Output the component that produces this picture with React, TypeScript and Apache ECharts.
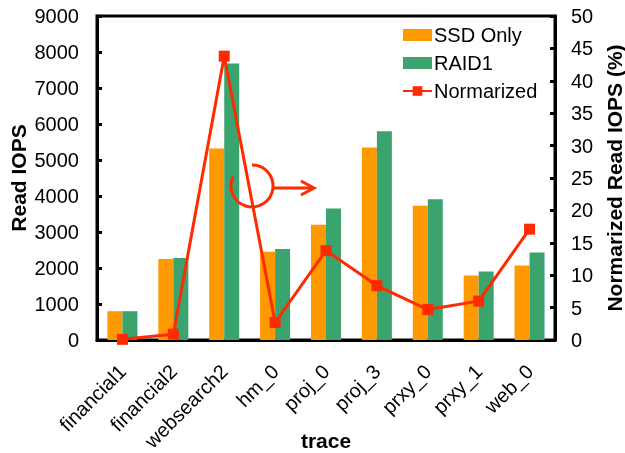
import React, { useEffect, useRef } from "react";
import * as echarts from "echarts";

const categories = ["financial1", "financial2", "websearch2", "hm_0", "proj_0", "proj_3", "prxy_0", "prxy_1", "web_0"];
const ssdOnly = [800, 2250, 5320, 2450, 3200, 5350, 3730, 1790, 2070];
const raid1 = [800, 2280, 7680, 2530, 3650, 5800, 3910, 1900, 2430];
const normarized = [0.1, 0.9, 43.8, 2.7, 13.8, 8.4, 4.7, 6.0, 17.1];

const FONT = "Liberation Sans, Arial, sans-serif";
const RED = "#FF2A00";

export default function App() {
  const ref = useRef<HTMLDivElement>(null);
  useEffect(() => {
    if (!ref.current) return;
    const chart = echarts.init(ref.current, undefined, { renderer: "svg" });
    chart.setOption({
      animation: false,
      textStyle: { fontFamily: FONT },
      grid: {
        left: 97,
        right: 70,
        top: 16,
        bottom: 113,
        containLabel: false,
        outerBoundsMode: "none",
        show: true,
        borderColor: "#000",
        borderWidth: 3,
        backgroundColor: "transparent",
      },
      legend: {
        orient: "vertical",
        left: 402,
        top: 25,
        padding: 0,
        itemWidth: 29,
        itemHeight: 12,
        itemGap: 8,
        textStyle: { fontSize: 20, color: "#000", fontFamily: FONT, padding: [0, 0, 0, -3] },
        data: [
          { name: "SSD Only", icon: "rect" },
          { name: "RAID1", icon: "rect" },
          { name: "Normarized" },
        ],
      },
      xAxis: {
        type: "category",
        data: categories,
        name: "trace",
        nameLocation: "middle",
        nameGap: 100,
        nameMoveOverlap: false,
        nameTextStyle: { fontSize: 21, fontWeight: "bold", color: "#000", align: "center", verticalAlign: "middle" },
        axisLine: { lineStyle: { color: "#000", width: 3 } },
        axisTick: { inside: true, length: 5, lineStyle: { width: 3, color: "#000" } },
        axisLabel: { rotate: 45, interval: 0, fontSize: 20, color: "#000", margin: 28 },
      },
      yAxis: [
        {
          type: "value",
          min: 0,
          max: 9000,
          interval: 1000,
          name: "Read IOPS",
          nameLocation: "middle",
          nameGap: 79,
          nameRotate: 90,
          nameMoveOverlap: false,
          nameTextStyle: { fontSize: 21, fontWeight: "bold", color: "#000", align: "center", verticalAlign: "middle" },
          splitLine: { show: false },
          axisLine: { show: true, lineStyle: { color: "#000", width: 3 } },
          axisTick: { show: true, inside: true, length: 5, lineStyle: { width: 3, color: "#000" } },
          axisLabel: { fontSize: 20, color: "#000", margin: 18, formatter: (v: number) => String(v) },
        },
        {
          type: "value",
          min: 0,
          max: 50,
          interval: 5,
          name: "Normarized Read IOPS (%)",
          nameLocation: "middle",
          nameGap: 59,
          nameRotate: 90,
          nameMoveOverlap: false,
          nameTextStyle: { fontSize: 21, fontWeight: "bold", color: "#000", align: "center", verticalAlign: "middle" },
          splitLine: { show: false },
          axisLine: { show: true, lineStyle: { color: "#000", width: 3 } },
          axisTick: { show: true, inside: true, length: 5, lineStyle: { width: 3, color: "#000" } },
          axisLabel: { fontSize: 20, color: "#000", margin: 16, formatter: (v: number) => String(v) },
        },
      ],
      series: [
        {
          name: "SSD Only",
          type: "bar",
          data: ssdOnly,
          barWidth: 15,
          barGap: "0%",
          itemStyle: { color: "#FF9900" },
        },
        {
          name: "RAID1",
          type: "bar",
          data: raid1,
          barWidth: 15,
          barGap: "0%",
          itemStyle: { color: "#3BA36E" },
        },
        {
          name: "Normarized",
          type: "line",
          yAxisIndex: 1,
          data: normarized,
          symbol: "rect",
          symbolSize: 11,
          z: 5,
          lineStyle: { color: RED, width: 3 },
          itemStyle: { color: RED },
        },
      ],
      graphic: [
        {
          type: "arc",
          shape: { cx: 252, cy: 186, r: 21, startAngle: -Math.PI / 2, endAngle: 3.6, clockwise: true },
          style: { stroke: RED, lineWidth: 3, fill: "none" },
          z: 10,
        },
        {
          type: "line",
          shape: { x1: 273, y1: 188, x2: 313, y2: 188 },
          style: { stroke: RED, lineWidth: 3 },
          z: 10,
        },
        {
          type: "polyline",
          shape: { points: [[301, 181], [314, 188], [301, 195]] },
          style: { stroke: RED, lineWidth: 3, fill: "none" },
          z: 10,
        },
      ],
    });
    return () => chart.dispose();
  }, []);
  return <div ref={ref} style={{ position: "fixed", left: 0, top: 0, width: 625, height: 453 }} />;
}
